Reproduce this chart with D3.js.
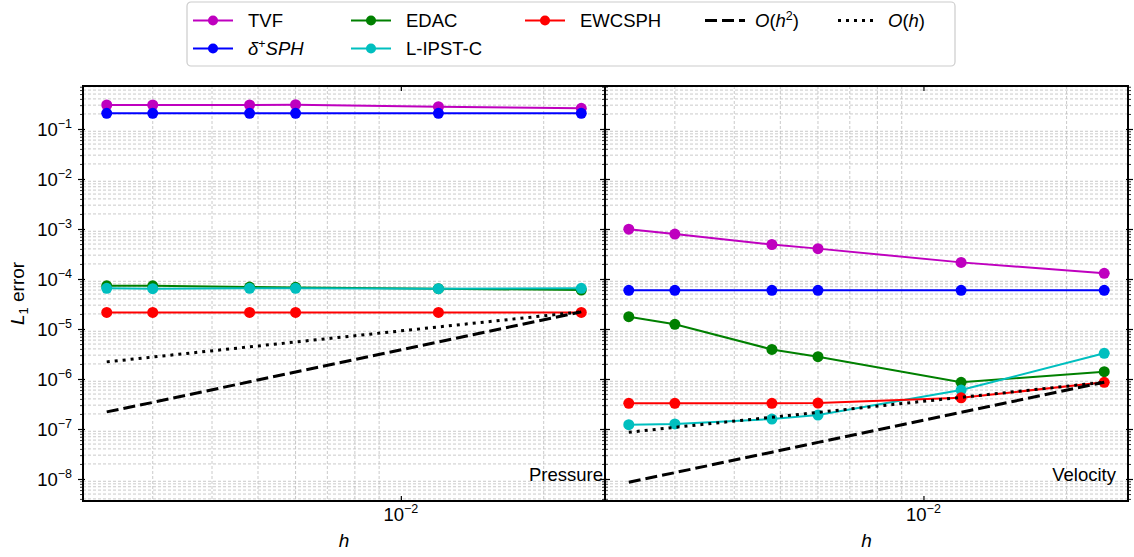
<!DOCTYPE html>
<html>
<head>
<meta charset="utf-8">
<script src="https://cdn.jsdelivr.net/npm/d3@7"></script>
<style>
  body { margin: 0; background: #fff; }
  text { font-family: "Liberation Sans", Arial, sans-serif; fill: #000; }
</style>
</head>
<body>
<div id="chart"></div>
<script>
// grid spacings
var hValues = [0.0024, 0.003, 0.0048, 0.006, 0.012, 0.024];

// pressure L1 errors
var pressureTVF      = [0.302, 0.302, 0.302, 0.306, 0.279, 0.259];
var pressureDeltaSPH = [0.206, 0.206, 0.206, 0.206, 0.206, 0.206];
var pressureEDAC     = [7.3e-5, 7.3e-5, 6.9e-5, 6.8e-5, 6.4e-5, 6.0e-5];
var pressureLIPSTC   = [6.5e-5, 6.4e-5, 6.5e-5, 6.5e-5, 6.4e-5, 6.5e-5];
var pressureEWCSPH   = [2.15e-5, 2.15e-5, 2.15e-5, 2.15e-5, 2.15e-5, 2.15e-5];
var pressureOh2      = [2.2e-7, 3.4e-7, 8.8e-7, 1.38e-6, 5.5e-6, 2.2e-5];
var pressureOh       = [2.2e-6, 2.75e-6, 4.4e-6, 5.5e-6, 1.1e-5, 2.2e-5];

// velocity L1 errors
var velocityTVF      = [9.9e-4, 7.9e-4, 4.9e-4, 4.05e-4, 2.15e-4, 1.3e-4];
var velocityDeltaSPH = [5.95e-5, 5.95e-5, 5.95e-5, 5.95e-5, 5.95e-5, 5.95e-5];
var velocityEDAC     = [1.76e-5, 1.24e-5, 3.9e-6, 2.8e-6, 8.6e-7, 1.4e-6];
var velocityLIPSTC   = [1.22e-7, 1.26e-7, 1.58e-7, 1.9e-7, 6.0e-7, 3.26e-6];
var velocityEWCSPH   = [3.26e-7, 3.26e-7, 3.26e-7, 3.3e-7, 4.2e-7, 8.6e-7];
var velocityOh2      = [8.6e-9, 1.34e-8, 3.44e-8, 5.4e-8, 2.15e-7, 8.6e-7];
var velocityOh       = [8.6e-8, 1.08e-7, 1.72e-7, 2.15e-7, 4.3e-7, 8.6e-7];

var seriesColors = ["#bf00bf", "#0000ff", "#008000", "#00bfbf", "#ff0000"];
var panelTitles = ["Pressure", "Velocity"];
var yTickExps = [-8, -7, -6, -5, -4, -3, -2, -1];
var xTickValues = [0.01];

var svgWidth = 1134, svgHeight = 557;
var plotTop = 86, plotBottom = 501;
var panelsX = [[83, 605], [605, 1128]];

var svg = d3.select("#chart").append("svg")
    .attr("width", svgWidth)
    .attr("height", svgHeight);

var yScale = d3.scaleLog()
    .domain([Math.pow(10, -8.44), Math.pow(10, -0.14)])
    .range([plotBottom, plotTop]);

// minor ticks 2..9 x 10^k
var yMinor = [];
for (var k = -9; k <= 0; k++) {
  for (var m = 2; m <= 9; m++) {
    var v = m * Math.pow(10, k);
    if (v > yScale.domain()[0] && v < yScale.domain()[1]) yMinor.push(v);
  }
}
var yMajor = yTickExps.map(e => Math.pow(10, e));

var panelData = [
  [pressureTVF, pressureDeltaSPH, pressureEDAC, pressureLIPSTC, pressureEWCSPH, pressureOh2, pressureOh],
  [velocityTVF, velocityDeltaSPH, velocityEDAC, velocityLIPSTC, velocityEWCSPH, velocityOh2, velocityOh]
];

panelsX.forEach(function(px, p) {
  var xScale = d3.scaleLog()
      .domain([Math.pow(10, -2.6698), Math.pow(10, -1.5698)])
      .range(px);

  var xMinor = [];
  for (var k = -3; k <= -2; k++) {
    for (var m = 2; m <= 9; m++) {
      var v = m * Math.pow(10, k);
      if (v > xScale.domain()[0] && v < xScale.domain()[1]) xMinor.push(v);
    }
  }

  var g = svg.append("g");

  // grid (minor only)
  g.append("g").selectAll("line").data(yMinor).enter().append("line")
      .attr("x1", px[0]).attr("x2", px[1])
      .attr("y1", d => yScale(d)).attr("y2", d => yScale(d))
      .attr("stroke", "#bdbdbd").attr("stroke-width", 0.8)
      .attr("stroke-dasharray", "3,2");
  g.append("g").selectAll("line").data(xMinor).enter().append("line")
      .attr("x1", d => xScale(d)).attr("x2", d => xScale(d))
      .attr("y1", plotTop).attr("y2", plotBottom)
      .attr("stroke", "#bdbdbd").attr("stroke-width", 0.8)
      .attr("stroke-dasharray", "3,2");

  // x axes (ticks inward, top and bottom)
  var xb = g.append("g").attr("transform", `translate(0,${plotBottom})`)
      .call(d3.axisBottom(xScale).tickValues(xTickValues).tickSize(-5).tickFormat(""));
  var xt = g.append("g").attr("transform", `translate(0,${plotTop})`)
      .call(d3.axisTop(xScale).tickValues(xTickValues).tickSize(-5).tickFormat(""));
  [xb, xt].forEach(a => {
    a.select(".domain").remove();
    a.selectAll("line").attr("stroke", "#000").attr("stroke-width", 1.2);
  });

  // y axes on both edges
  px.forEach(function(edge, side) {
    var dir = side === 0 ? -1 : 1;
    var ax = g.append("g").attr("transform", `translate(${edge},0)`);
    ax.append("g").call(d3.axisLeft(yScale).tickValues(yMajor).tickSize(5).tickFormat(""))
      .call(s => s.select(".domain").remove())
      .selectAll("line").attr("x1", -2 * dir).attr("x2", 5 * dir)
      .attr("stroke", "#000").attr("stroke-width", 1.2);
    ax.append("g").call(d3.axisLeft(yScale).tickValues(yMinor).tickSize(3).tickFormat(""))
      .call(s => s.select(".domain").remove())
      .selectAll("line").attr("x1", -1 * dir).attr("x2", 3 * dir)
      .attr("stroke", "#000").attr("stroke-width", 0.8);
  });

  // x tick labels
  xTickValues.forEach(function(v) {
    var t = g.append("text").attr("x", xScale(v)).attr("y", 521)
        .attr("text-anchor", "middle").style("font-size", "18.5px");
    t.append("tspan").text("10");
    t.append("tspan").attr("dy", -8).style("font-size", "12.5px").text("\u22122");
  });

  // x label
  g.append("text").attr("x", (px[0] + px[1]) / 2).attr("y", 547)
      .attr("text-anchor", "middle").style("font-size", "19px")
      .style("font-style", "italic").text("h");

  // series lines
  var line = d3.line().x((d, i) => xScale(hValues[i])).y(d => yScale(d));
  var data = panelData[p];
  for (var s = 0; s < 5; s++) {
    g.append("path").datum(data[s]).attr("d", line)
        .attr("fill", "none").attr("stroke", seriesColors[s]).attr("stroke-width", 2);
    g.append("g").selectAll("circle").data(data[s]).enter().append("circle")
        .attr("cx", (d, i) => xScale(hValues[i])).attr("cy", d => yScale(d))
        .attr("r", 5.5).attr("fill", seriesColors[s]);
  }
  g.append("path").datum(data[5]).attr("d", line)
      .attr("fill", "none").attr("stroke", "#000").attr("stroke-width", 3)
      .attr("stroke-dasharray", "12,5");
  g.append("path").datum(data[6]).attr("d", line)
      .attr("fill", "none").attr("stroke", "#000").attr("stroke-width", 3)
      .attr("stroke-dasharray", "3,5");

  // panel label
  g.append("text").attr("x", p === 0 ? 603 : 1116).attr("y", 481)
      .attr("text-anchor", "end").style("font-size", "18.5px").text(panelTitles[p]);

  // frame
  g.append("rect").attr("x", px[0]).attr("y", plotTop)
      .attr("width", px[1] - px[0]).attr("height", plotBottom - plotTop)
      .attr("fill", "none").attr("stroke", "#000").attr("stroke-width", 2);
});

// y tick labels (left panel)
yTickExps.forEach(function(e) {
  var t = svg.append("text").attr("x", 72).attr("y", yScale(Math.pow(10, e)) + 6.5)
      .attr("text-anchor", "end").style("font-size", "18.5px");
  t.append("tspan").text("10");
  t.append("tspan").attr("dy", -8).style("font-size", "12.5px").text("\u2212" + Math.abs(e));
});

// y label
var yl = svg.append("text").attr("transform", "translate(24,293.5) rotate(-90)")
    .attr("text-anchor", "middle").style("font-size", "19px");
yl.append("tspan").style("font-style", "italic").text("L");
yl.append("tspan").attr("dy", 4).style("font-size", "13px").text("1");
yl.append("tspan").attr("dy", -4).text(" error");

// legend
var legend = svg.append("g");
legend.append("rect").attr("x", 187).attr("y", 2).attr("width", 768).attr("height", 64)
    .attr("rx", 4).attr("fill", "#fff").attr("stroke", "#cccccc").attr("stroke-width", 1.2);

var legendItems = [
  {col: 0, row: 0, color: seriesColors[0], label: [["TVF", ""]]},
  {col: 0, row: 1, color: seriesColors[1], label: [["\u03b4", "i"], ["+", "sup"], ["SPH", "i"]]},
  {col: 1, row: 0, color: seriesColors[2], label: [["EDAC", ""]]},
  {col: 1, row: 1, color: seriesColors[3], label: [["L-IPST-C", ""]]},
  {col: 2, row: 0, color: seriesColors[4], label: [["EWCSPH", ""]]},
  {col: 3, row: 0, color: "#000", dash: "12,5", label: [["O", "i"], ["(", ""], ["h", "i"], ["2", "sup"], [")", ""]]},
  {col: 4, row: 0, color: "#000", dash: "3,5", label: [["O", "i"], ["(", ""], ["h", "i"], [")", ""]]}
];
var colX = [193, 351, 525, 705, 838];
var rowY = [20.5, 48.5];

legendItems.forEach(function(it) {
  var x0 = colX[it.col], y0 = rowY[it.row];
  legend.append("line").attr("x1", x0).attr("x2", x0 + 40).attr("y1", y0).attr("y2", y0)
      .attr("stroke", it.color).attr("stroke-width", it.dash ? 3 : 2)
      .attr("stroke-dasharray", it.dash || null);
  if (!it.dash) {
    legend.append("circle").attr("cx", x0 + 20).attr("cy", y0).attr("r", 5)
        .attr("fill", it.color);
  }
  var t = legend.append("text").attr("x", x0 + (it.col < 3 ? 55 : 50)).attr("y", y0 + 6.5)
      .style("font-size", "18.5px");
  var raised = false;
  it.label.forEach(function(part) {
    var sp = t.append("tspan").text(part[0]);
    if (part[1] === "i") sp.style("font-style", "italic");
    if (part[1] === "sup") {
      sp.attr("dy", -7).style("font-size", "12.5px");
      raised = true;
    } else if (raised) {
      sp.attr("dy", 7);
      raised = false;
    }
  });
});
</script>
</body>
</html>
